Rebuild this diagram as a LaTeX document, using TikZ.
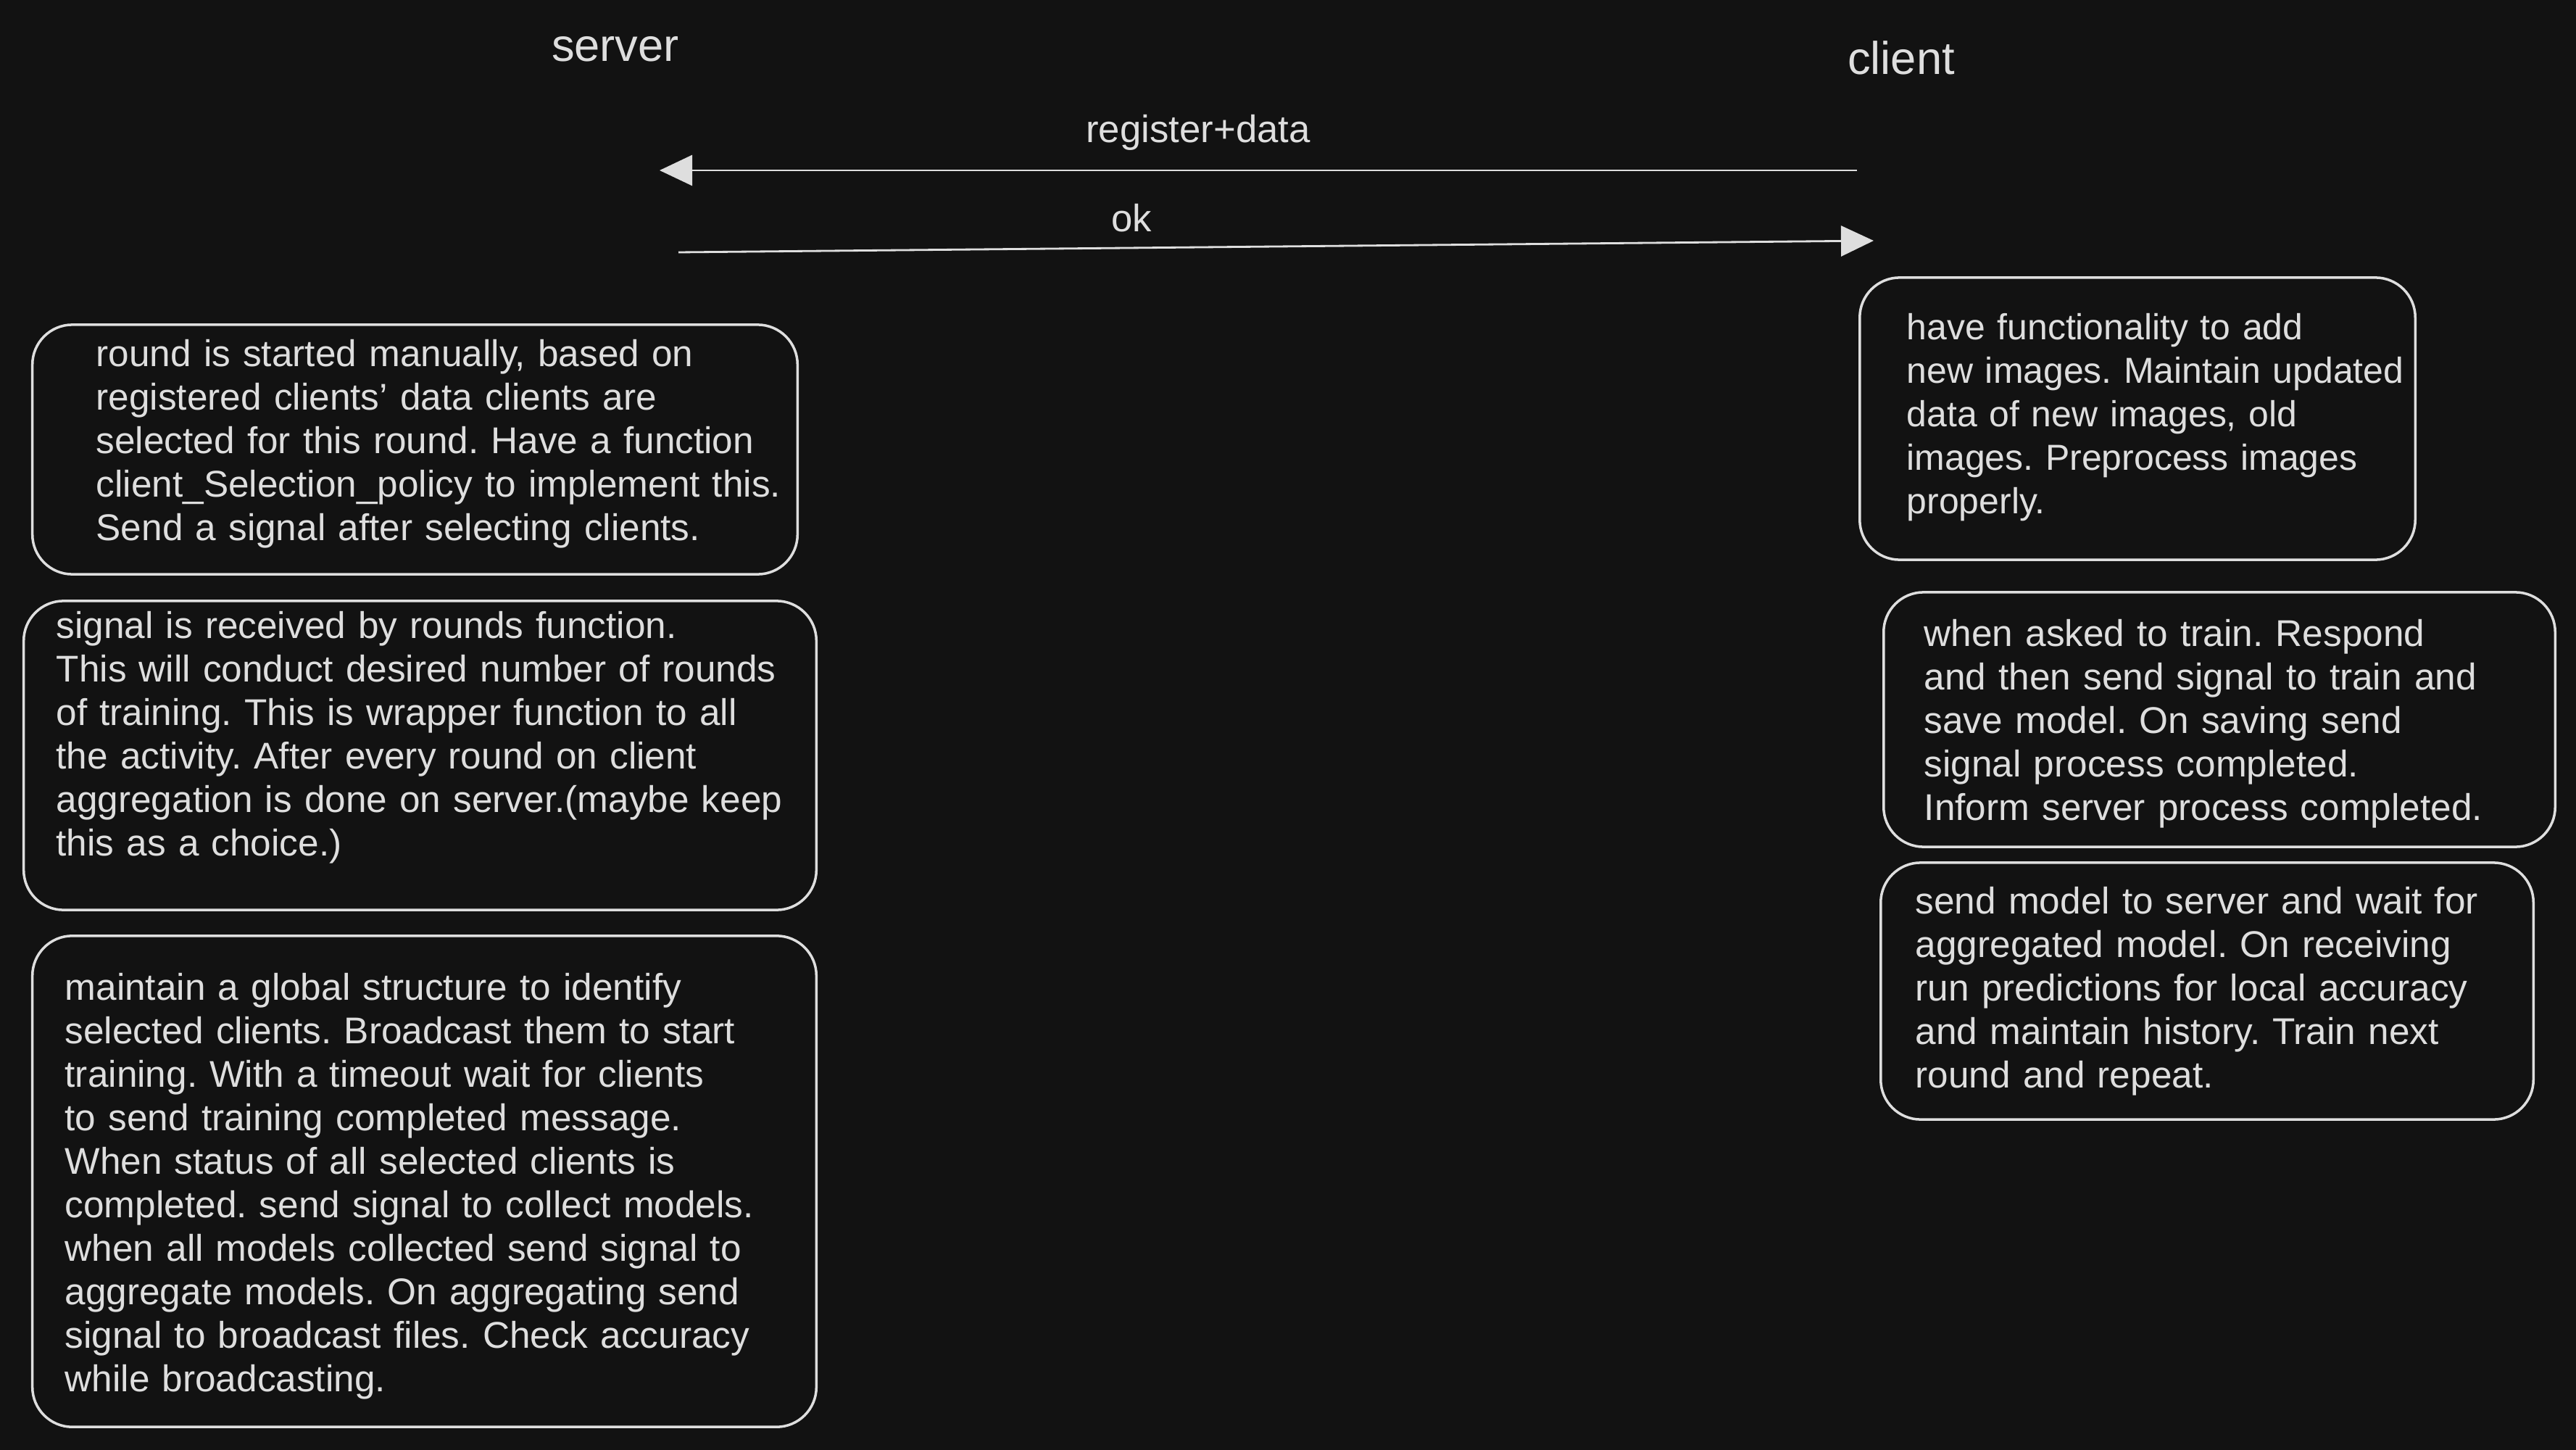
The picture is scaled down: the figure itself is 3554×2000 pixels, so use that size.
\documentclass[tikz,border=0pt]{standalone}
\usepackage{fontspec}
\setmainfont{Liberation Sans}
\usetikzlibrary{arrows.meta}
\definecolor{bg}{HTML}{121212}
\definecolor{ink}{HTML}{DEDEDE}
\tikzset{
  box/.style={draw=ink, fill=bg, line width=1pt, rounded corners=0.55cm, inner sep=0pt},
  txt/.style={text=ink, inner sep=0pt, anchor=base west, text width=12cm, align=left,
    font=\fontsize{14.6pt}{17.07pt}\selectfont\frenchspacing},
  txtsm/.style={txt, font=\fontsize{14.2pt}{17.07pt}\selectfont\frenchspacing},
  ttl/.style={text=ink, inner sep=0pt, anchor=base, font=\fontsize{18pt}{21pt}\selectfont},
  lbl/.style={text=ink, inner sep=0pt, anchor=base, font=\fontsize{15pt}{18pt}\selectfont},
  arr/.style={draw=ink, line width=0.8pt, -{Triangle[length=0.45cm, width=0.42cm, fill=ink]}}
}
\begin{document}
\begin{tikzpicture}[x=0.01cm, y=-0.01cm]
\fill[bg] (0,0) rectangle (3554,2000);
\useasboundingbox (0,0) rectangle (3554,2000);

% titles
\node[ttl] (server) at (849,85) {server};
\node[ttl] (client) at (2623,103) {client};

% messages
\coordinate (regFrom) at (2562,235);
\coordinate (regTo) at (910,235);
\draw[arr] (regFrom) -- (regTo);
\node[lbl] (reglbl) at (1653,197) {register+data};

\coordinate (okFrom) at (936,348);
\coordinate (okTo) at (2585,332);
\draw[arr] (okFrom) -- (okTo);
\node[lbl] (oklbl) at (1561,320) {ok};

% server boxes
\node[box, minimum width=10.55cm, minimum height=3.44cm] (s1) at (572.5,620) {};
\node[txt] (s1t) at (132,505) {round is started manually, based on\\
registered clients' data clients are\\
selected for this round. Have a function\\
client\_Selection\_policy to implement this.\\
Send a signal after selecting clients.};

\node[box, minimum width=10.93cm, minimum height=4.26cm] (s2) at (579.5,1042) {};
\node[txt] (s2t) at (77,880) {signal is received by rounds function.\\
This will conduct desired number of rounds\\
of training. This is wrapper function to all\\
the activity. After every round on client\\
aggregation is done on server.(maybe keep\\
this as a choice.)};

\node[box, minimum width=10.81cm, minimum height=6.77cm] (s3) at (585.5,1629.5) {};
\node[txt] (s3t) at (89,1379) {maintain a global structure to identify\\
selected clients. Broadcast them to start\\
training. With a timeout wait for clients\\
to send training completed message.\\
When status of all selected clients is\\
completed. send signal to collect models.\\
when all models collected send signal to\\
aggregate models. On aggregating send\\
signal to broadcast files. Check accuracy\\
while broadcasting.};

% client boxes
\node[box, minimum width=7.66cm, minimum height=3.89cm] (c1) at (2949,577.5) {};
\node[txtsm] (c1t) at (2630,468) {have functionality to add\\
new images. Maintain updated\\
data of new images, old\\
images. Preprocess images\\
properly.};

\node[box, minimum width=9.26cm, minimum height=3.51cm] (c2) at (3062,992.5) {};
\node[txt] (c2t) at (2654,891) {when asked to train. Respond\\
and then send signal to train and\\
save model. On saving send\\
signal process completed.\\
Inform server process completed.};

\node[box, minimum width=9.00cm, minimum height=3.54cm] (c3) at (3045,1367) {};
\node[txt] (c3t) at (2642,1260) {send model to server and wait for\\
aggregated model. On receiving\\
run predictions for local accuracy\\
and maintain history. Train next\\
round and repeat.};
\end{tikzpicture}
\end{document}
